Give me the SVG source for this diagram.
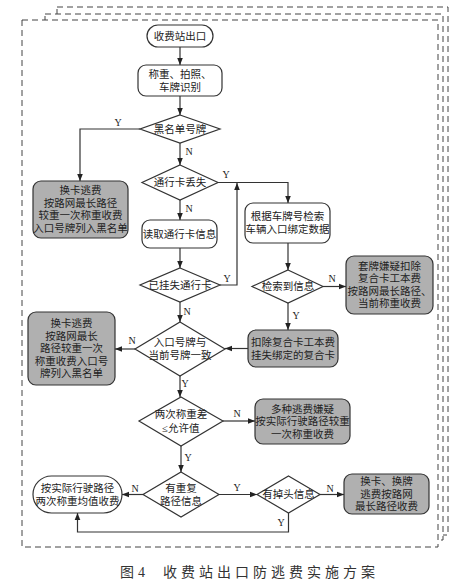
<svg xmlns="http://www.w3.org/2000/svg" width="474" height="588" viewBox="0 0 474 588">
<style>
.frame{fill:#fff;stroke:#444;stroke-width:1;stroke-dasharray:6 4}
.front{fill:#fff;stroke:#444;stroke-width:1;stroke-dasharray:6 4}
.n{fill:#fff;stroke:#333;stroke-width:1.2}
.g{fill:#b0b0b0;stroke:#333;stroke-width:1.2}
.t{font-family:"Liberation Serif","Noto Sans CJK SC",serif;font-size:10.5px;fill:#222;text-anchor:middle;dominant-baseline:central}
.l{font-family:"Liberation Serif","Noto Sans CJK SC",serif;font-size:10px;fill:#222;text-anchor:middle;dominant-baseline:central}
.c{fill:none;stroke:#333;stroke-width:1.2}
.cap{font-family:"Liberation Serif","Noto Sans CJK SC",serif;font-size:14px;fill:#333;letter-spacing:4px}
</style>
<defs>
<marker id="ar" viewBox="0 0 10 10" refX="10" refY="5" markerWidth="7" markerHeight="7" orient="auto" markerUnits="userSpaceOnUse">
<path d="M0,1 L10,5 L0,9 z" fill="#222"/>
</marker>
</defs>
<rect class="frame" x="57" y="7" width="391" height="528"/>
<rect class="frame" x="45" y="14" width="398" height="526"/>
<rect class="front" x="22" y="20" width="416" height="527"/>

<g id="connectors">
<path class="c" marker-end="url(#ar)" d="M180,47 V65"/>
<path class="c" marker-end="url(#ar)" d="M180,96 V115"/>
<path class="c" marker-end="url(#ar)" d="M140,129 H80 V181"/>
<path class="c" marker-end="url(#ar)" d="M180,143 V165"/>
<path class="c" marker-end="url(#ar)" d="M180,200 V220"/>
<path class="c" marker-end="url(#ar)" d="M218,182.5 H288 V203"/>
<path class="c" marker-end="url(#ar)" d="M180,248 V268"/>
<path class="c" marker-end="url(#ar)" d="M220,285 H237 V183"/>
<path class="c" marker-end="url(#ar)" d="M288,243 V270"/>
<path class="c" marker-end="url(#ar)" d="M323,286.5 H346"/>
<path class="c" marker-end="url(#ar)" d="M288,303 V330"/>
<path class="c" marker-end="url(#ar)" d="M248,348.5 H225"/>
<path class="c" marker-end="url(#ar)" d="M180,302 V322"/>
<path class="c" marker-end="url(#ar)" d="M135,349 H115"/>
<path class="c" marker-end="url(#ar)" d="M180,376 V397"/>
<path class="c" marker-end="url(#ar)" d="M223,421 H255"/>
<path class="c" marker-end="url(#ar)" d="M181,446 V472"/>
<path class="c" marker-end="url(#ar)" d="M143,494.5 H122"/>
<path class="c" marker-end="url(#ar)" d="M219,494.5 H257"/>
<path class="c" marker-end="url(#ar)" d="M320,494.5 H344"/>
<path class="c" marker-end="url(#ar)" d="M288.5,513 V532 H77.5 V513"/>
<text class="l" x="118" y="122">Y</text>
<text class="l" x="189" y="151">N</text>
<text class="l" x="226" y="174">Y</text>
<text class="l" x="189" y="208">N</text>
<text class="l" x="227" y="278">Y</text>
<text class="l" x="187" y="311">N</text>
<text class="l" x="332" y="278">N</text>
<text class="l" x="296" y="315">Y</text>
<text class="l" x="132" y="340">N</text>
<text class="l" x="185" y="383">Y</text>
<text class="l" x="237" y="413">N</text>
<text class="l" x="188" y="457">Y</text>
<text class="l" x="135" y="488">N</text>
<text class="l" x="237" y="487">Y</text>
<text class="l" x="330" y="488">N</text>
<text class="l" x="281" y="522">Y</text>
</g>

<g id="start">
<rect class="n" x="147" y="25" width="66" height="22" rx="11"/>
<text class="t" x="180" y="36">收费站出口</text>
</g>
<g id="weigh">
<rect class="n" x="138" y="65" width="84" height="31" rx="8"/>
<text class="t" x="180" y="74">称重、拍照、</text>
<text class="t" x="180" y="87">车牌识别</text>
</g>
<g id="blacklist">
<polygon class="n" points="180,115 220,129 180,143 140,129"/>
<text class="t" x="180" y="129">黑名单号牌</text>
</g>
<g id="box1">
<rect class="g" x="33" y="181" width="95" height="57" rx="8"/>
<text class="t" x="80.5" y="190.5">换卡逃费</text>
<text class="t" x="80.5" y="203">按路网最长路径</text>
<text class="t" x="80.5" y="215.5">较重一次称重收费</text>
<text class="t" x="80.5" y="228">入口号牌列入黑名单</text>
</g>
<g id="lostcard">
<polygon class="n" points="180,165 218,182.5 180,200 142,182.5"/>
<text class="t" x="180" y="182.5">通行卡丢失</text>
</g>
<g id="readcard">
<rect class="n" x="142" y="220" width="75" height="28" rx="8"/>
<text class="t" x="179.5" y="234">读取通行卡信息</text>
</g>
<g id="reported">
<polygon class="n" points="180,268 220,285 180,302 140,285"/>
<text class="t" x="180" y="285">已挂失通行卡</text>
</g>
<g id="search">
<rect class="n" x="245" y="203" width="85" height="40" rx="8"/>
<text class="t" x="287.5" y="216.5">根据车牌号检索</text>
<text class="t" x="287.5" y="229.5">车辆入口绑定数据</text>
</g>
<g id="found">
<polygon class="n" points="288,270 323,286.5 288,303 252,286.5"/>
<text class="t" x="288" y="286.5">检索到信息</text>
</g>
<g id="box2">
<rect class="g" x="346" y="256" width="87" height="58" rx="8"/>
<text class="t" x="389.5" y="266">套牌嫌疑扣除</text>
<text class="t" x="389.5" y="278.5">复合卡工本费</text>
<text class="t" x="389.5" y="291">按路网最长路径、</text>
<text class="t" x="389.5" y="303.5">当前称重收费</text>
</g>
<g id="box3">
<rect class="g" x="248" y="330" width="90" height="37" rx="8"/>
<text class="t" x="293" y="342">扣除复合卡工本费</text>
<text class="t" x="293" y="355">挂失绑定的复合卡</text>
</g>
<g id="match">
<polygon class="n" points="180,322 225,349 180,376 135,349"/>
<text class="t" x="180" y="342">入口号牌与</text>
<text class="t" x="180" y="355">当前号牌一致</text>
</g>
<g id="box4">
<rect class="g" x="28" y="312" width="87" height="73" rx="8"/>
<text class="t" x="71.5" y="323.5">换卡逃费</text>
<text class="t" x="71.5" y="336">按路网最长</text>
<text class="t" x="71.5" y="348.5">路径较重一次</text>
<text class="t" x="71.5" y="361">称重收费入口号</text>
<text class="t" x="71.5" y="373.5">牌列入黑名单</text>
</g>
<g id="weightdiff">
<polygon class="n" points="181,397 223,421 181,446 139,421"/>
<text class="t" x="181" y="414">两次称重差</text>
<text class="t" x="181" y="428">≤允许值</text>
</g>
<g id="box5">
<rect class="g" x="255" y="399" width="95" height="45" rx="8"/>
<text class="t" x="302.5" y="409">多种逃费嫌疑</text>
<text class="t" x="302.5" y="421.5">按实际行驶路径较重</text>
<text class="t" x="302.5" y="434">一次称重收费</text>
</g>
<g id="duproute">
<polygon class="n" points="181,472 219,494.5 181,517 143,494.5"/>
<text class="t" x="181" y="488">有重复</text>
<text class="t" x="181" y="501">路径信息</text>
</g>
<g id="avg">
<rect class="n" x="33" y="476" width="89" height="37" rx="18.5"/>
<text class="t" x="77.5" y="488">按实际行驶路径</text>
<text class="t" x="77.5" y="501">两次称重均值收费</text>
</g>
<g id="uturn">
<polygon class="n" points="288.5,476 320,494.5 288.5,513 257,494.5"/>
<text class="t" x="288.5" y="494.5">有掉头信息</text>
</g>
<g id="box6">
<rect class="g" x="344" y="474" width="85" height="40" rx="8"/>
<text class="t" x="386.5" y="481.5">换卡、换牌</text>
<text class="t" x="386.5" y="494">逃费按路网</text>
<text class="t" x="386.5" y="506.5">最长路径收费</text>
</g>
<text class="cap" x="120" y="577">图4<tspan x="163">收费站出口防逃费实施方案</tspan></text>
</svg>
